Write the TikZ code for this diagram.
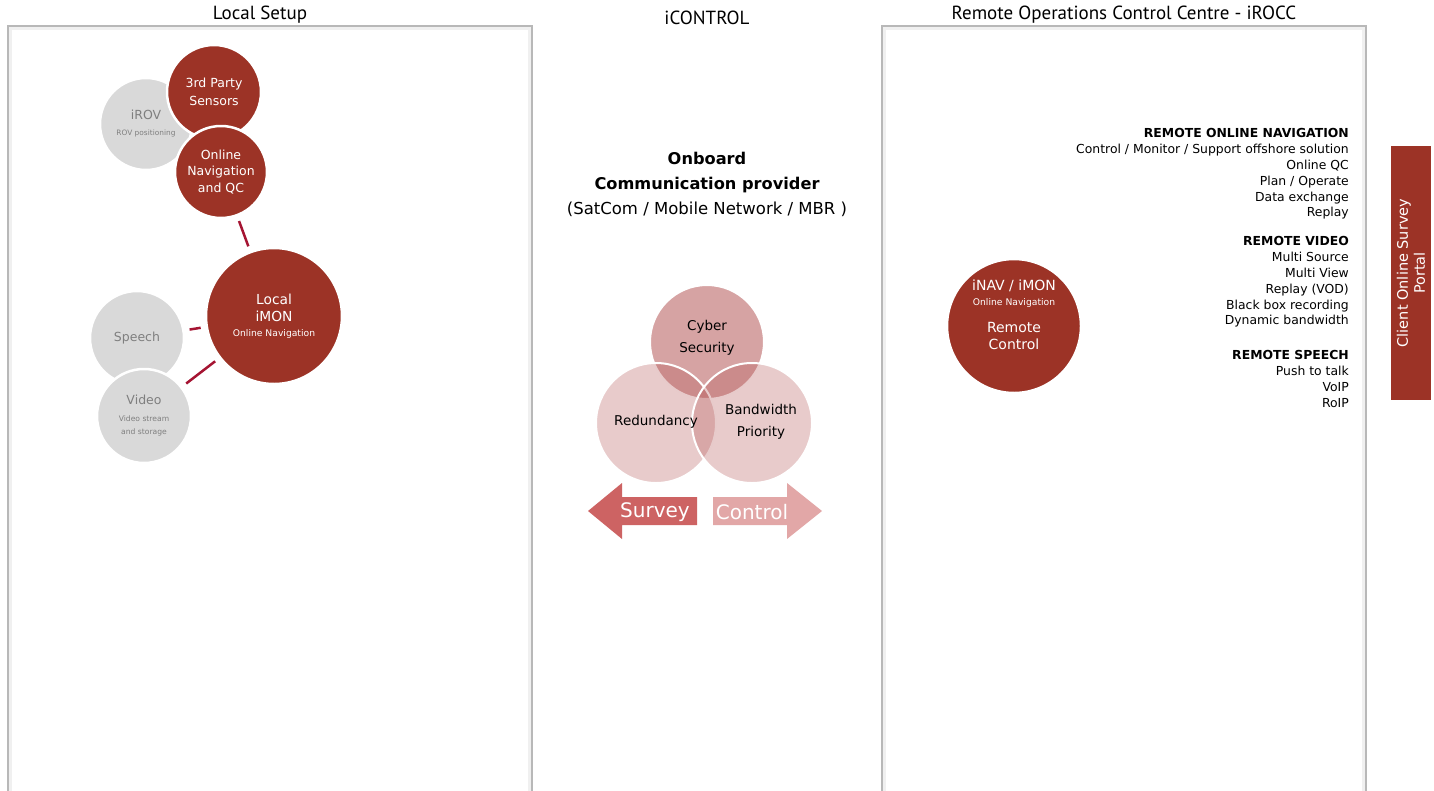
\documentclass[tikz,border=0pt]{standalone}
\usepackage{fontspec}
\setmainfont{DejaVu Sans}
\newfontfamily\headfont{PT Sans}
\usetikzlibrary{positioning}
\definecolor{iroccred}{RGB}{156,51,38}
\definecolor{igrey}{RGB}{217,217,217}
\definecolor{igreytext}{RGB}{127,127,127}
\definecolor{linkred}{RGB}{165,20,50}
\definecolor{vennbase}{RGB}{180,87,87}
\definecolor{surveyred}{RGB}{205,99,99}
\definecolor{controlpink}{RGB}{226,167,167}
\newcommand\fsz[2]{\fontsize{#1}{#2}\selectfont}
\tikzset{red node/.style={circle,fill=iroccred,draw=white,line width=2.5pt,text=white,inner sep=0pt,align=center,minimum size=#1},
         grey node/.style={circle,fill=igrey,draw=white,line width=2.5pt,text=igreytext,inner sep=0pt,align=center,minimum size=#1},
         venn node/.style={circle,fill=vennbase,fill opacity=#1,draw=white,draw opacity=1,line width=2pt,inner sep=0pt},
         venn text/.style={align=center,font=\fsz{13.5}{22}},
         link/.style={draw=linkred,line width=2.5pt,shorten <=5pt,shorten >=5pt},
         frame/.style={draw=black!28,line width=1.2pt},
         head/.style={font=\headfont\fsz{19}{21}},
         list text/.style={align=right,anchor=north east,inner sep=0pt,font=\fsz{12.4}{15.9}},
         arrow text/.style={text=white,font=\fsz{20}{22}}
}
\begin{document}
\begin{tikzpicture}[x=1pt,y=-1pt]
\useasboundingbox (0,0) rectangle (1434,790);

% frames and headings
\draw[black!6,line width=3pt] (10.5,28.5) rectangle (529.5,800);
\draw[frame] (8,26) rectangle (532,800);
\draw[black!6,line width=3pt] (884.5,28.5) rectangle (1363.5,800);
\draw[frame] (882,26) rectangle (1366,800);
\node[head] (localhead) at (260,15) {Local Setup};
\node[head] (icontrolhead) at (707,18) {iCONTROL};
\node[head] (iroccHead) at (1124,15) {Remote Operations Control Centre - iROCC};

% local setup
\node[grey node=92pt,font=\fsz{12.5}{16}] (irov) at (146,124) {iROV\\\fsz{7.4}{9}ROV positioning};
\node[red node=94pt,font=\fsz{12.5}{18}] (sensors) at (214,92) {3rd Party\\Sensors};
\node[red node=92pt,font=\fsz{12.5}{16.5}] (onq) at (221,172) {Online\\Navigation\\and QC};
\node[red node=136pt,font=\fsz{13.8}{17}] (imon) at (274,316) {Local\\iMON\\[-2pt]\fsz{9.2}{11}Online Navigation};
\node[grey node=94pt,font=\fsz{12.5}{15}] (speech) at (137,338) {Speech};
\node[grey node=94pt,font=\fsz{12.5}{13}] (video) at (144,416) {Video\\[4pt]\fsz{7.6}{13}Video stream\\\fsz{7.6}{13}and storage};
\draw[link] (onq) -- (imon);
\draw[link] (speech) -- (imon);
\draw[link] (video) -- (imon);

% iCONTROL
\node[align=center,font=\fsz{16.5}{25}] (provider) at (707,184) {\fsz{16.2}{25}\textbf{Onboard}\\\fsz{16.2}{25}\textbf{Communication provider}\\(SatCom / Mobile Network / MBR )};
\node[venn node=0.55,minimum size=114pt] (cyber) at (707,342) {};
\node[venn node=0.31,minimum size=120pt] (redundancy) at (656,423) {};
\node[venn node=0.31,minimum size=120pt] (bandwidth) at (752,423) {};
\node[venn text] (cybertext) at (707,338) {Cyber\\Security};
\node[venn text] (redundancytext) at (656,422) {Redundancy};
\node[venn text] (bandwidthtext) at (761,422) {Bandwidth\\Priority};
\fill[surveyred] (588,511) -- (622,483) -- (622,497) -- (697,497) -- (697,525) -- (622,525) -- (622,539) -- cycle;
\node[arrow text] (survey) at (655,512) {Survey};
\fill[controlpink] (713,497) -- (787,497) -- (787,483) -- (822,511) -- (787,539) -- (787,525) -- (713,525) -- cycle;
\node[arrow text] (control) at (752,512) {Control};

% iROCC
\node[red node=134pt,font=\fsz{14}{15}] (remote) at (1014,326) {iNAV / iMON\\\fsz{9.2}{11}Online Navigation\\[12pt]Remote\\[2pt]Control\\[8pt]};
\node[list text] (navlist) at (1349,128) {\textbf{REMOTE ONLINE NAVIGATION}\\Control / Monitor / Support offshore solution\\Online QC\\Plan / Operate\\Data exchange\\Replay};
\node[list text] (videolist) at (1349,236) {\textbf{REMOTE VIDEO}\\Multi Source\\Multi View\\Replay (VOD)\\Black box recording\\Dynamic bandwidth};
\node[list text] (speechlist) at (1349,350) {\textbf{REMOTE SPEECH}\\Push to talk\\VoIP\\RoIP};
\node[fill=iroccred,text=white,rotate=90,minimum width=254pt,minimum height=40pt,align=center,font=\fsz{14.5}{17}] (portal) at (1411,273) {Client Online Survey\\Portal};
\end{tikzpicture}
\end{document}
